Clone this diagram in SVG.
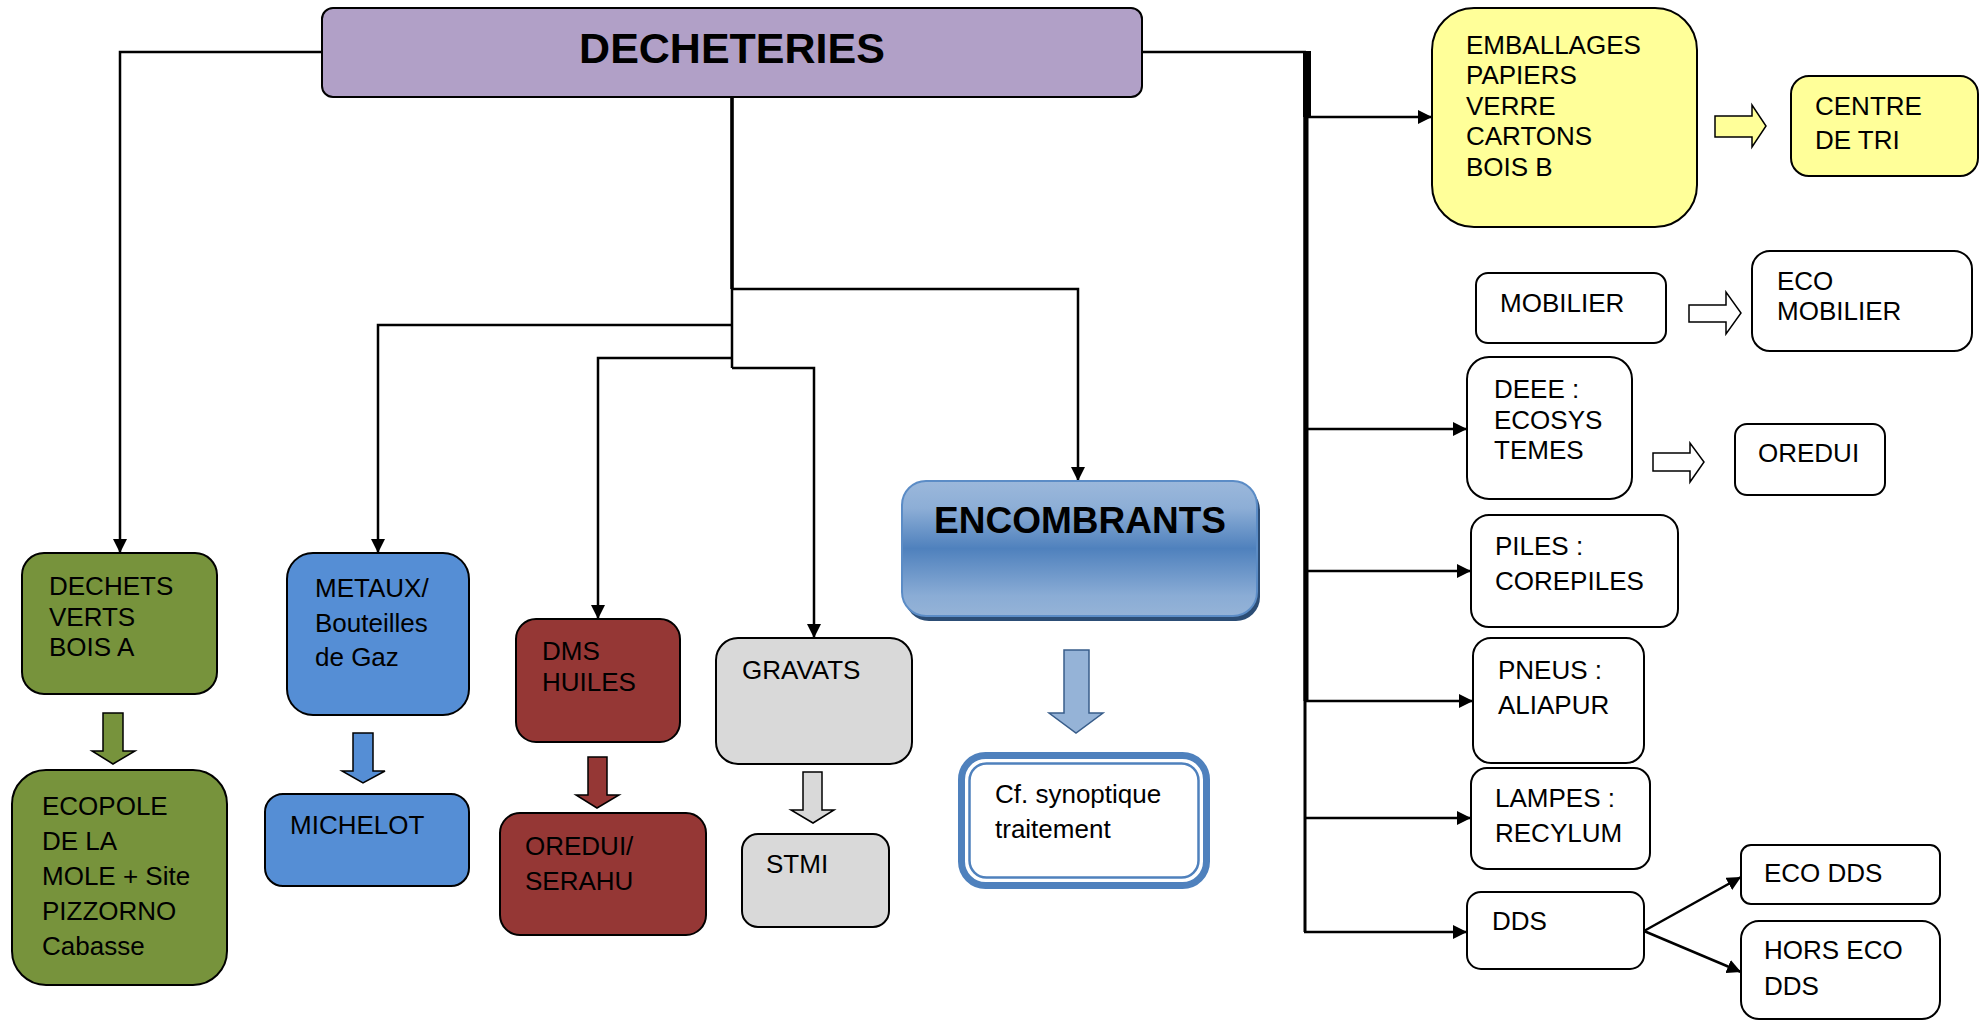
<svg xmlns="http://www.w3.org/2000/svg" width="1982" height="1021" viewBox="0 0 1982 1021">
<defs>
<style>
.n{stroke:#000;stroke-width:2}
.t{font-family:"Liberation Sans",Arial,sans-serif;font-size:26px;fill:#000}
.c{fill:none;stroke:#000;stroke-width:2.5}
.ba{stroke:#000;stroke-width:1.5}
</style>
<marker id="ah" markerUnits="userSpaceOnUse" viewBox="0 0 14 14" markerWidth="14" markerHeight="14" refX="14" refY="7" orient="auto">
<path d="M0,0 L14,7 L0,14 Z" fill="#000"/>
</marker>
<linearGradient id="enc" x1="0" y1="0" x2="0" y2="1">
<stop offset="0" stop-color="#9BB8DB"/>
<stop offset="0.2" stop-color="#8DAED6"/>
<stop offset="0.5" stop-color="#4F81BD"/>
<stop offset="0.85" stop-color="#8AACD5"/>
<stop offset="1" stop-color="#95B3D7"/>
</linearGradient>
</defs>

<g id="connectors">
<path class="c" d="M322,52 H120 V553" marker-end="url(#ah)"/>
<path class="c" d="M732,97 V368"/>
<path d="M732,97 V289" fill="none" stroke="#000" stroke-width="3.5"/>
<path class="c" d="M732,289 H1078 V481" marker-end="url(#ah)"/>
<path class="c" d="M732,325 H378 V553" marker-end="url(#ah)"/>
<path class="c" d="M732,358 H598 V619" marker-end="url(#ah)"/>
<path class="c" d="M732,368 H814 V638" marker-end="url(#ah)"/>
<path class="c" d="M1142,52 H1306"/>
<path d="M1305,51 V932" fill="none" stroke="#000" stroke-width="3"/>
<path d="M1306,51 V701" fill="none" stroke="#000" stroke-width="5"/>
<path d="M1307,51 V117" fill="none" stroke="#000" stroke-width="8"/>
<path class="c" d="M1305,117 H1432" marker-end="url(#ah)"/>
<path class="c" d="M1305,429 H1467" marker-end="url(#ah)"/>
<path class="c" d="M1305,571 H1471" marker-end="url(#ah)"/>
<path class="c" d="M1305,701 H1473" marker-end="url(#ah)"/>
<path class="c" d="M1305,818 H1471" marker-end="url(#ah)"/>
<path class="c" d="M1304,932 H1467" marker-end="url(#ah)"/>
<path class="c" d="M1644,931 L1741,877" marker-end="url(#ah)"/>
<path class="c" d="M1644,931 L1741,972" marker-end="url(#ah)"/>
<!-- block arrows -->
<path class="ba" fill="#77933C" d="M103,713 H123 V751 H135 L113,764 L92,751 H103 Z"/>
<path class="ba" fill="#558ED5" d="M353,733 H373 V771 H385 L363,783 L342,771 H353 Z"/>
<path class="ba" fill="#953735" d="M588,757 H607 V795 H619 L597,808 L576,795 H588 Z"/>
<path class="ba" fill="#D9D9D9" d="M803,772 H822 V810 H834 L813,823 L791,810 H803 Z"/>
<path stroke="#385D8A" stroke-width="1.5" fill="#95B3D7" d="M1064,650 H1089 V713 H1103 L1076,733 L1049,713 H1064 Z"/>
<path class="ba" fill="#FFFF99" d="M1715,116 H1752 V105 L1766,126 L1752,147 V137 H1715 Z"/>
<path class="ba" fill="#FFFFFF" d="M1689,305 H1726 V292 L1741,313 L1726,334 V322 H1689 Z"/>
<path class="ba" fill="#FFFFFF" d="M1653,453 H1690 V443 L1704,462 L1690,482 V471 H1653 Z"/>
</g>

<g id="n-decheteries">
<rect class="n" x="322" y="8" width="820" height="89" rx="11" fill="#B1A0C7"/>
<text x="732" y="63" text-anchor="middle" font-family="Liberation Sans, Arial, sans-serif" font-size="43" font-weight="bold">DECHETERIES</text>
</g>

<g id="n-dechets-verts">
<rect class="n" x="22" y="553" width="195" height="141" rx="22" fill="#77933C"/>
<text class="t" x="49" y="595">DECHETS</text>
<text class="t" x="49" y="626">VERTS</text>
<text class="t" x="49" y="656">BOIS A</text>
</g>

<g id="n-ecopole">
<rect class="n" x="12" y="770" width="215" height="215" rx="34" fill="#77933C"/>
<text class="t" x="42" y="815">ECOPOLE</text>
<text class="t" x="42" y="850">DE LA</text>
<text class="t" x="42" y="885">MOLE + Site</text>
<text class="t" x="42" y="920">PIZZORNO</text>
<text class="t" x="42" y="955">Cabasse</text>
</g>

<g id="n-metaux">
<rect class="n" x="287" y="553" width="182" height="162" rx="26" fill="#558ED5"/>
<text class="t" x="315" y="597">METAUX/</text>
<text class="t" x="315" y="632">Bouteilles</text>
<text class="t" x="315" y="666">de Gaz</text>
</g>

<g id="n-michelot">
<rect class="n" x="265" y="794" width="204" height="92" rx="18" fill="#558ED5"/>
<text class="t" x="290" y="834">MICHELOT</text>
</g>

<g id="n-dms">
<rect class="n" x="516" y="619" width="164" height="123" rx="20" fill="#953735"/>
<text class="t" x="542" y="660">DMS</text>
<text class="t" x="542" y="691">HUILES</text>
</g>

<g id="n-oredui-serahu">
<rect class="n" x="500" y="813" width="206" height="122" rx="20" fill="#953735"/>
<text class="t" x="525" y="855">OREDUI/</text>
<text class="t" x="525" y="890">SERAHU</text>
</g>

<g id="n-gravats">
<rect class="n" x="716" y="638" width="196" height="126" rx="22" fill="#D9D9D9"/>
<text class="t" x="742" y="679">GRAVATS</text>
</g>

<g id="n-stmi">
<rect class="n" x="742" y="834" width="147" height="93" rx="16" fill="#D9D9D9"/>
<text class="t" x="766" y="873">STMI</text>
</g>

<g id="n-encombrants">
<rect x="905" y="486" width="355" height="135" rx="24" fill="#2C4D75"/>
<rect x="902" y="481" width="355" height="135" rx="24" fill="url(#enc)" stroke="#5B8CC6" stroke-width="2"/>
<text x="1080" y="533" text-anchor="middle" font-family="Liberation Sans, Arial, sans-serif" font-size="37" font-weight="bold">ENCOMBRANTS</text>
</g>

<g id="n-synoptique">
<rect x="961.5" y="755.5" width="245" height="130" rx="24" fill="#FFFFFF" stroke="#4F81BD" stroke-width="7"/>
<rect x="969.5" y="763.5" width="229" height="114" rx="17" fill="none" stroke="#4F81BD" stroke-width="2.5"/>
<text class="t" x="995" y="803">Cf. synoptique</text>
<text class="t" x="995" y="838">traitement</text>
</g>

<g id="n-emballages">
<rect class="n" x="1432" y="8" width="265" height="219" rx="42" fill="#FFFF99"/>
<text class="t" x="1466" y="54">EMBALLAGES</text>
<text class="t" x="1466" y="84">PAPIERS</text>
<text class="t" x="1466" y="115">VERRE</text>
<text class="t" x="1466" y="145">CARTONS</text>
<text class="t" x="1466" y="176">BOIS B</text>
</g>

<g id="n-centre-tri">
<rect class="n" x="1791" y="76" width="187" height="100" rx="18" fill="#FFFF99"/>
<text class="t" x="1815" y="115">CENTRE</text>
<text class="t" x="1815" y="149">DE TRI</text>
</g>

<g id="n-mobilier">
<rect class="n" x="1476" y="273" width="190" height="70" rx="12" fill="#FFFFFF"/>
<text class="t" x="1500" y="312">MOBILIER</text>
</g>

<g id="n-eco-mobilier">
<rect class="n" x="1752" y="251" width="220" height="100" rx="18" fill="#FFFFFF"/>
<text class="t" x="1777" y="290">ECO</text>
<text class="t" x="1777" y="320">MOBILIER</text>
</g>

<g id="n-deee">
<rect class="n" x="1467" y="357" width="165" height="142" rx="22" fill="#FFFFFF"/>
<text class="t" x="1494" y="398">DEEE :</text>
<text class="t" x="1494" y="429">ECOSYS</text>
<text class="t" x="1494" y="459">TEMES</text>
</g>

<g id="n-oredui">
<rect class="n" x="1735" y="424" width="150" height="71" rx="12" fill="#FFFFFF"/>
<text class="t" x="1758" y="462">OREDUI</text>
</g>

<g id="n-piles">
<rect class="n" x="1471" y="515" width="207" height="112" rx="18" fill="#FFFFFF"/>
<text class="t" x="1495" y="555">PILES :</text>
<text class="t" x="1495" y="590">COREPILES</text>
</g>

<g id="n-pneus">
<rect class="n" x="1473" y="638" width="171" height="125" rx="18" fill="#FFFFFF"/>
<text class="t" x="1498" y="679">PNEUS :</text>
<text class="t" x="1498" y="714">ALIAPUR</text>
</g>

<g id="n-lampes">
<rect class="n" x="1471" y="768" width="179" height="101" rx="16" fill="#FFFFFF"/>
<text class="t" x="1495" y="807">LAMPES :</text>
<text class="t" x="1495" y="842">RECYLUM</text>
</g>

<g id="n-dds">
<rect class="n" x="1467" y="892" width="177" height="77" rx="14" fill="#FFFFFF"/>
<text class="t" x="1492" y="930">DDS</text>
</g>

<g id="n-eco-dds">
<rect class="n" x="1741" y="845" width="199" height="59" rx="10" fill="#FFFFFF"/>
<text class="t" x="1764" y="882">ECO DDS</text>
</g>

<g id="n-hors-eco-dds">
<rect class="n" x="1741" y="921" width="199" height="98" rx="18" fill="#FFFFFF"/>
<text class="t" x="1764" y="959">HORS ECO</text>
<text class="t" x="1764" y="995">DDS</text>
</g>
</svg>
